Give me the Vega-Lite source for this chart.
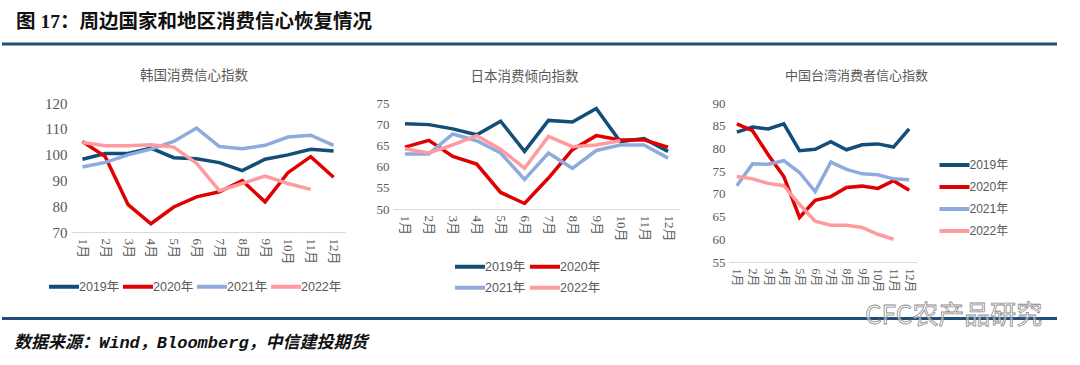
{
  "$schema": "https://vega.github.io/schema/vega-lite/v6.json",
  "background": "white",
  "padding": {"left": 0, "top": 12, "right": 0, "bottom": 0},
  "datasets": {
    "korea": [
      {"n":1,"y":"2019年","v":98.2},{"n":2,"y":"2019年","v":100.4},{"n":3,"y":"2019年","v":100.4},{"n":4,"y":"2019年","v":102.5},{"n":5,"y":"2019年","v":98.8},{"n":6,"y":"2019年","v":98.4},{"n":7,"y":"2019年","v":96.9},{"n":8,"y":"2019年","v":93.8},{"n":9,"y":"2019年","v":98.2},{"n":10,"y":"2019年","v":99.9},{"n":11,"y":"2019年","v":102.1},{"n":12,"y":"2019年","v":101.4},
      {"n":1,"y":"2020年","v":105.1},{"n":2,"y":"2020年","v":99.2},{"n":3,"y":"2020年","v":80.6},{"n":4,"y":"2020年","v":73.2},{"n":5,"y":"2020年","v":79.7},{"n":6,"y":"2020年","v":83.6},{"n":7,"y":"2020年","v":85.6},{"n":8,"y":"2020年","v":89.9},{"n":9,"y":"2020年","v":81.7},{"n":10,"y":"2020年","v":93.0},{"n":11,"y":"2020年","v":99.2},{"n":12,"y":"2020年","v":91.2},
      {"n":1,"y":"2021年","v":95.2},{"n":2,"y":"2021年","v":97.0},{"n":3,"y":"2021年","v":99.9},{"n":4,"y":"2021年","v":102.1},{"n":5,"y":"2021年","v":105.1},{"n":6,"y":"2021年","v":110.3},{"n":7,"y":"2021年","v":103.1},{"n":8,"y":"2021年","v":102.3},{"n":9,"y":"2021年","v":103.6},{"n":10,"y":"2021年","v":106.8},{"n":11,"y":"2021年","v":107.5},{"n":12,"y":"2021年","v":103.6},
      {"n":1,"y":"2022年","v":104.7},{"n":2,"y":"2022年","v":103.4},{"n":3,"y":"2022年","v":103.4},{"n":4,"y":"2022年","v":103.8},{"n":5,"y":"2022年","v":102.9},{"n":6,"y":"2022年","v":96.6},{"n":7,"y":"2022年","v":86.0},{"n":8,"y":"2022年","v":88.8},{"n":9,"y":"2022年","v":91.7},{"n":10,"y":"2022年","v":88.8},{"n":11,"y":"2022年","v":86.5}
    ],
    "japan": [
      {"n":1,"y":"2019年","v":70.1},{"n":2,"y":"2019年","v":69.9},{"n":3,"y":"2019年","v":68.9},{"n":4,"y":"2019年","v":67.5},{"n":5,"y":"2019年","v":70.7},{"n":6,"y":"2019年","v":63.6},{"n":7,"y":"2019年","v":70.9},{"n":8,"y":"2019年","v":70.5},{"n":9,"y":"2019年","v":73.7},{"n":10,"y":"2019年","v":65.9},{"n":11,"y":"2019年","v":66.6},{"n":12,"y":"2019年","v":63.6},
      {"n":1,"y":"2020年","v":64.6},{"n":2,"y":"2020年","v":66.2},{"n":3,"y":"2020年","v":62.4},{"n":4,"y":"2020年","v":60.6},{"n":5,"y":"2020年","v":53.9},{"n":6,"y":"2020年","v":51.3},{"n":7,"y":"2020年","v":57.3},{"n":8,"y":"2020年","v":64.0},{"n":9,"y":"2020年","v":67.3},{"n":10,"y":"2020年","v":66.3},{"n":11,"y":"2020年","v":66.3},{"n":12,"y":"2020年","v":64.6},
      {"n":1,"y":"2021年","v":63.0},{"n":2,"y":"2021年","v":63.0},{"n":3,"y":"2021年","v":67.7},{"n":4,"y":"2021年","v":66.1},{"n":5,"y":"2021年","v":63.2},{"n":6,"y":"2021年","v":57.0},{"n":7,"y":"2021年","v":63.2},{"n":8,"y":"2021年","v":59.6},{"n":9,"y":"2021年","v":63.8},{"n":10,"y":"2021年","v":65.1},{"n":11,"y":"2021年","v":65.1},{"n":12,"y":"2021年","v":62.0},
      {"n":1,"y":"2022年","v":64.2},{"n":2,"y":"2022年","v":63.2},{"n":3,"y":"2022年","v":65.1},{"n":4,"y":"2022年","v":67.3},{"n":5,"y":"2022年","v":64.1},{"n":6,"y":"2022年","v":59.6},{"n":7,"y":"2022年","v":67.1},{"n":8,"y":"2022年","v":64.7},{"n":9,"y":"2022年","v":65.1},{"n":10,"y":"2022年","v":66.1}
    ],
    "taiwan": [
      {"n":1,"y":"2019年","v":83.6},{"n":2,"y":"2019年","v":84.7},{"n":3,"y":"2019年","v":84.3},{"n":4,"y":"2019年","v":85.4},{"n":5,"y":"2019年","v":79.5},{"n":6,"y":"2019年","v":79.8},{"n":7,"y":"2019年","v":81.5},{"n":8,"y":"2019年","v":79.7},{"n":9,"y":"2019年","v":80.8},{"n":10,"y":"2019年","v":81.0},{"n":11,"y":"2019年","v":80.3},{"n":12,"y":"2019年","v":84.3},
      {"n":1,"y":"2020年","v":85.4},{"n":2,"y":"2020年","v":83.9},{"n":3,"y":"2020年","v":78.6},{"n":4,"y":"2020年","v":73.8},{"n":5,"y":"2020年","v":64.8},{"n":6,"y":"2020年","v":68.6},{"n":7,"y":"2020年","v":69.4},{"n":8,"y":"2020年","v":71.4},{"n":9,"y":"2020年","v":71.7},{"n":10,"y":"2020年","v":71.2},{"n":11,"y":"2020年","v":72.9},{"n":12,"y":"2020年","v":70.8},
      {"n":1,"y":"2021年","v":71.8},{"n":2,"y":"2021年","v":76.6},{"n":3,"y":"2021年","v":76.5},{"n":4,"y":"2021年","v":77.3},{"n":5,"y":"2021年","v":74.7},{"n":6,"y":"2021年","v":70.5},{"n":7,"y":"2021年","v":77.0},{"n":8,"y":"2021年","v":75.4},{"n":9,"y":"2021年","v":74.4},{"n":10,"y":"2021年","v":74.2},{"n":11,"y":"2021年","v":73.3},{"n":12,"y":"2021年","v":73.1},
      {"n":1,"y":"2022年","v":73.8},{"n":2,"y":"2022年","v":73.3},{"n":3,"y":"2022年","v":72.3},{"n":4,"y":"2022年","v":71.8},{"n":5,"y":"2022年","v":67.7},{"n":6,"y":"2022年","v":64.0},{"n":7,"y":"2022年","v":63.1},{"n":8,"y":"2022年","v":63.1},{"n":9,"y":"2022年","v":62.6},{"n":10,"y":"2022年","v":61.1},{"n":11,"y":"2022年","v":60.0}
    ]
  },
  "spacing": 22,
  "resolve": {"scale": {"color": "independent"}, "legend": {"color": "independent"}},
  "vconcat": [
    {
      "width": 986,
      "height": 1,
      "data": {"values": [{"k": 0}]},
      "title": {"text": "图 17：周边国家和地区消费信心恢复情况", "anchor": "start", "frame": "group", "dx": -55, "offset": 10, "font": "Liberation Serif, Noto Sans CJK SC", "fontSize": 19.5, "fontWeight": "bold", "color": "#111111"},
      "mark": {"type": "rule", "color": "#1F4E79", "strokeWidth": 3},
      "encoding": {
        "x": {"datum": -69, "type": "quantitative", "scale": {"domain": [0, 986], "nice": false, "zero": false}, "axis": null},
        "x2": {"datum": 986},
        "y": {"datum": 1, "type": "quantitative", "scale": {"domain": [0, 1]}, "axis": null}
      }
    },
    {
      "spacing": 6.5,
      "resolve": {"scale": {"color": "independent"}, "legend": {"color": "independent"}},
      "vconcat": [
        {
          "spacing": 24,
          "resolve": {"scale": {"color": "independent"}, "legend": {"color": "independent"}},
          "hconcat": [
            {
              "width": 274,
              "height": 129,
              "data": {"name": "korea"},
              "title": {"text": "韩国消费信心指数", "frame": "group", "dx": -14, "fontSize": 13.5, "offset": 14},
              "mark": {"type": "line", "strokeWidth": 3.5},
              "encoding": {
                "x": {"field": "n", "type": "ordinal", "scale": {"type": "point", "padding": 0.5}, "axis": {"labelExpr": "datum.label + '月'", "labelFontSize": 13}},
                "y": {"field": "v", "type": "quantitative", "scale": {"domain": [70, 120]}, "axis": {"values": [70, 80, 90, 100, 110, 120], "minExtent": 69, "maxExtent": 69, "labelFontSize": 15}},
                "color": {"field": "y", "type": "nominal", "scale": {"domain": ["2019年", "2020年", "2021年", "2022年"], "range": ["#124E78", "#E00000", "#8FAADC", "#FF9B9E"]},
                  "legend": {"orient": "none", "legendX": -16.5, "legendY": 174, "direction": "horizontal", "columns": 4, "columnPadding": -5}}
              }
            },
            {
              "width": 287,
              "height": 106,
              "data": {"name": "japan"},
              "title": {"text": "日本消费倾向指数", "frame": "bounds", "fontSize": 13.5, "offset": 14},
              "encoding": {
                "x": {"field": "n", "type": "ordinal", "scale": {"type": "point", "padding": 0.5}, "axis": {"labelExpr": "datum.label + '月'", "labelFontSize": 13}},
                "y": {"field": "v", "type": "quantitative", "scale": {"domain": [50, 75]}, "axis": {"values": [50, 55, 60, 65, 70, 75], "minExtent": 24, "maxExtent": 24, "labelFontSize": 13}}
              },
              "layer": [
                {
                  "transform": [{"filter": {"field": "y", "oneOf": ["2019年", "2020年"]}}],
                  "mark": {"type": "line", "strokeWidth": 3.5},
                  "encoding": {
                    "color": {"field": "y", "type": "nominal", "scale": {"domain": ["2019年", "2020年"], "range": ["#124E78", "#E00000"]},
                      "legend": {"orient": "none", "legendX": 67.5, "legendY": 154, "direction": "horizontal", "columnPadding": -4}}
                  }
                },
                {
                  "transform": [{"filter": {"field": "y", "oneOf": ["2021年", "2022年"]}}],
                  "mark": {"type": "line", "strokeWidth": 3.5},
                  "encoding": {
                    "color": {"field": "y", "type": "nominal", "scale": {"domain": ["2021年", "2022年"], "range": ["#8FAADC", "#FF9B9E"]},
                      "legend": {"orient": "none", "legendX": 67.5, "legendY": 175, "direction": "horizontal", "columnPadding": -4}}
                  }
                }
              ],
              "resolve": {"scale": {"color": "independent"}, "legend": {"color": "independent"}}
            },
            {
              "width": 188,
              "height": 159,
              "data": {"name": "taiwan"},
              "title": {"text": "中国台湾消费者信心指数", "frame": "bounds", "fontSize": 13, "offset": 14},
              "mark": {"type": "line", "strokeWidth": 3.5},
              "encoding": {
                "x": {"field": "n", "type": "ordinal", "scale": {"type": "point", "padding": 0.5}, "axis": {"labelExpr": "datum.label + '月'", "labelFontSize": 12}},
                "y": {"field": "v", "type": "quantitative", "scale": {"domain": [55, 90]}, "axis": {"values": [55, 60, 65, 70, 75, 80, 85, 90], "minExtent": 25, "maxExtent": 25, "labelFontSize": 13}},
                "color": {"field": "y", "type": "nominal", "scale": {"domain": ["2019年", "2020年", "2021年", "2022年"], "range": ["#124E78", "#E00000", "#8FAADC", "#FF9B9E"]},
                  "legend": {"orient": "none", "legendX": 216, "legendY": 52.5, "direction": "vertical", "rowPadding": 4, "labelFontSize": 12}}
              }
            }
          ]
        },
        {
          "width": 986,
          "height": 1,
          "title": {"text": "数据来源：Wind，Bloomberg，中信建投期货", "orient": "bottom", "anchor": "start", "frame": "group", "dx": -57, "offset": 6, "font": "Liberation Mono, Noto Sans CJK SC", "fontSize": 17, "fontWeight": "bold", "fontStyle": "italic", "color": "#111111"},
          "layer": [
            {
              "data": {"values": [{"k": 0}]},
              "mark": {"type": "rule", "color": "#1F4E79", "strokeWidth": 3},
              "encoding": {
                "x": {"datum": -69, "type": "quantitative", "scale": {"domain": [0, 986], "nice": false, "zero": false}, "axis": null},
                "x2": {"datum": 986},
                "y": {"datum": 1, "type": "quantitative", "scale": {"domain": [0, 1]}, "axis": null}
              }
            },
            {
              "data": {"values": [{"t": "CFC农产品研究"}]},
              "mark": {"type": "text", "align": "left", "baseline": "middle", "dy": -2.5, "font": "Noto Sans CJK SC", "fontSize": 26, "fill": "white", "fillOpacity": 0.55, "stroke": "#8c8c8c", "strokeWidth": 0.8},
              "encoding": {
                "text": {"field": "t", "type": "nominal"},
                "x": {"datum": 794, "type": "quantitative"},
                "y": {"datum": 1, "type": "quantitative"}
              }
            }
          ]
        }
      ]
    }
  ],
  "config": {
    "view": {"stroke": null},
    "title": {"font": "Noto Sans CJK SC", "fontWeight": "normal", "color": "#595959", "anchor": "middle"},
    "axis": {"grid": false, "ticks": false, "title": null, "labelColor": "#595959", "labelFont": "Liberation Serif, Noto Sans CJK SC"},
    "axisX": {"domain": true, "domainColor": "#D9D9D9", "domainWidth": 1, "labelAngle": 90, "labelPadding": 6},
    "axisY": {"domain": false, "labelPadding": 4},
    "legend": {"title": null, "labelFont": "Liberation Sans, Noto Sans CJK SC", "labelFontSize": 12.5, "labelColor": "#595959", "symbolType": "M-2,0L2,0", "symbolSize": 225, "symbolStrokeWidth": 4, "labelOffset": 5.5}
  }
}
